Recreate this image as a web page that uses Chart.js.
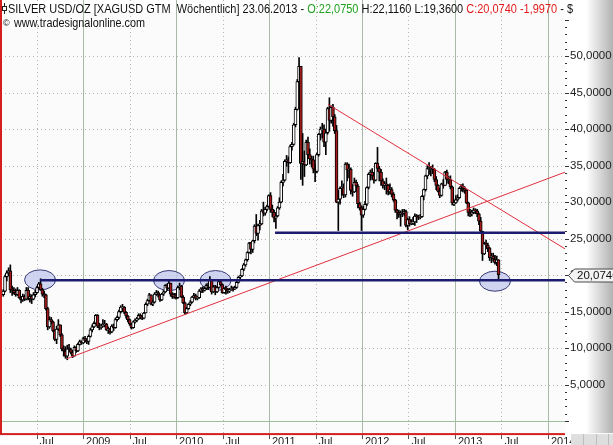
<!DOCTYPE html>
<html>
<head>
<meta charset="utf-8">
<script src="https://cdn.jsdelivr.net/npm/chart.js@4/dist/chart.umd.min.js"></script>
<style>
  html, body { margin: 0; padding: 0; background: #fff; overflow: hidden; }
  canvas { display: block; }
</style>
</head>
<body>
<canvas id="chart" width="613" height="445"></canvas>
<script>
// weekly silver candles, first week ends 22.02.2008, one bar per week
const firstWeek = Date.UTC(2008, 1, 22);
const firstOpen = 17.3;

const closes = [
  // 2008
  17.8, 19.8, 20.3, 20.6, 18.0, 17.9, 17.6, 17.3, 17.9, 16.9, 16.6, 17.1, 16.7, 17.9, 16.8,
  17.1, 16.7, 17.3, 17.6, 18.3, 18.8, 18.0, 17.4, 17.3, 15.4, 12.9, 13.9, 13.6, 12.4, 11.2,
  12.6, 13.2, 11.8, 9.9, 9.6, 8.9, 9.9, 9.8, 9.4, 8.9, 10.1, 9.6, 10.5, 10.9, 10.7,
  // 2009
  11.3, 11.0, 10.9, 11.6, 12.5, 12.9, 13.4, 14.5, 13.0, 12.8, 13.0, 13.3, 13.3, 12.5, 12.6,
  12.2, 13.0, 12.8, 13.9, 14.2, 15.0, 15.6, 15.6, 14.9, 14.4, 13.9, 13.3, 12.8, 13.6, 13.8,
  14.0, 14.5, 14.2, 14.1, 14.8, 16.0, 16.5, 17.3, 16.0, 16.3, 17.4, 17.6, 17.3, 16.6, 17.4,
  17.7, 18.6, 18.2, 18.9, 17.4, 17.0, 17.3,
  // 2010
  16.9, 18.3, 18.5, 17.0, 16.2, 14.8, 15.4, 16.0, 16.3, 17.0, 17.2, 16.8, 16.9, 17.8, 18.1,
  17.9, 18.2, 18.6, 18.3, 19.3, 17.7, 18.4, 17.7, 18.3, 19.1, 18.7, 17.6, 18.2, 18.0, 17.8,
  18.0, 18.2, 18.1, 18.3, 19.0, 19.7, 19.9, 20.8, 21.4, 22.1, 23.1, 24.4, 23.5, 24.7, 26.7,
  25.7, 26.8, 27.0, 28.8, 28.5, 29.0, 29.4, 30.9,
  // 2011
  29.0, 28.6, 27.8, 28.1, 29.2, 30.0, 32.7, 33.0, 35.6, 35.8, 35.4, 37.6, 37.9, 40.6, 42.7,
  46.5, 48.6, 35.3, 35.6, 35.1, 38.2, 36.5, 35.9, 35.8, 34.5, 34.2, 36.5, 39.3, 40.0, 40.0,
  38.2, 39.5, 42.8, 41.2, 43.0, 41.7, 39.8, 30.0, 30.4, 31.9, 32.0, 31.0, 35.2, 34.4, 34.5,
  31.6, 31.4, 32.7, 32.2, 29.8, 29.2, 28.2,
  // 2012
  29.0, 29.7, 32.0, 33.8, 34.1, 33.6, 33.0, 35.3, 34.6, 34.1, 32.9, 32.3, 32.5, 32.3, 31.4,
  31.7, 31.1, 30.3, 28.9, 28.6, 28.3, 28.5, 28.4, 28.7, 26.8, 27.6, 27.0, 27.3, 27.3, 28.1,
  28.0, 27.9, 28.0, 30.8, 31.7, 33.6, 34.6, 34.6, 34.6, 34.5, 33.1, 32.3, 31.5, 30.9, 32.5,
  32.3, 34.1, 33.1, 33.1, 32.1, 29.9, 29.9,
  // 2013
  30.3, 30.6, 31.9, 32.2, 31.9, 31.6, 29.9, 28.6, 28.4, 28.6, 28.9, 28.8, 28.4, 27.4, 26.0,
  22.9, 24.3, 24.1, 23.7, 22.4, 22.6, 22.2, 21.7, 22.08, 20.07
];

const highs = [
  18.0, 20.0, 20.6, 21.0, 21.4, 18.5, 18.3, 18.1, 18.3, 18.0, 17.1, 17.4, 17.3, 18.3, 18.3,
  17.4, 17.3, 17.6, 17.9, 18.5, 19.0, 19.5, 18.2, 17.8, 17.4, 15.6, 14.3, 14.2, 13.7, 12.5,
  13.0, 13.9, 13.2, 12.0, 10.3, 10.2, 10.4, 10.5, 10.0, 9.7, 10.3, 10.2, 10.7, 11.1, 11.0,
  11.5, 11.6, 11.3, 11.8, 12.7, 13.2, 13.6, 14.6, 14.6, 13.4, 13.3, 13.9, 13.8, 13.4, 12.9,
  12.7, 13.2, 13.3, 14.1, 14.4, 15.2, 15.8, 16.0, 15.7, 15.0, 14.5, 14.0, 13.4, 13.7, 14.0,
  14.2, 14.7, 14.7, 14.4, 14.9, 16.2, 16.7, 17.5, 17.3, 16.6, 17.6, 17.9, 17.8, 17.3, 17.5,
  17.9, 18.7, 18.8, 19.4, 18.9, 17.6, 17.5,
  17.5, 18.5, 18.9, 18.6, 17.2, 16.3, 15.6, 16.1, 16.5, 17.1, 17.5, 17.4, 17.1, 18.0, 18.3,
  18.4, 18.4, 18.8, 18.9, 19.8, 19.4, 18.6, 18.6, 18.5, 19.3, 19.2, 18.8, 18.3, 18.5, 18.2,
  18.2, 18.5, 18.4, 18.5, 19.2, 19.8, 20.0, 20.9, 21.6, 22.2, 23.2, 24.5, 24.5, 24.8, 26.9,
  28.3, 27.0, 27.5, 29.0, 30.0, 29.3, 29.6, 31.0,
  31.3, 29.6, 28.9, 28.5, 29.4, 30.6, 32.9, 33.8, 35.8, 36.4, 36.2, 37.8, 38.2, 40.8, 43.0,
  46.8, 49.8, 48.6, 39.4, 37.0, 38.5, 38.9, 37.3, 36.3, 36.3, 35.1, 36.7, 39.4, 40.3, 40.8,
  40.6, 40.0, 43.0, 44.3, 43.2, 43.4, 42.0, 40.5, 31.6, 32.1, 32.9, 32.5, 35.4, 35.4, 35.2,
  34.7, 32.4, 33.3, 33.0, 32.4, 30.0, 29.5,
  29.4, 30.1, 32.1, 34.0, 34.4, 34.6, 34.0, 35.4, 37.5, 34.9, 34.5, 33.2, 32.8, 33.3, 32.4,
  32.5, 32.0, 31.3, 30.4, 29.0, 28.9, 28.8, 29.0, 29.0, 28.9, 27.8, 28.0, 27.6, 27.9, 28.4,
  28.3, 28.2, 28.3, 30.9, 31.8, 33.7, 35.0, 35.4, 34.9, 35.1, 34.6, 33.5, 32.4, 31.9, 32.6,
  33.1, 34.2, 34.4, 33.5, 33.6, 32.2, 30.3,
  30.9, 31.0, 32.0, 32.4, 32.5, 32.1, 31.7, 30.0, 29.0, 28.9, 29.2, 29.1, 29.0, 28.5, 27.9,
  26.0, 24.5, 24.8, 24.4, 23.8, 23.0, 23.0, 22.7, 22.6, 22.12
];

const lows = [
  17.1, 17.7, 19.2, 19.9, 17.6, 17.2, 17.4, 17.1, 17.2, 16.8, 16.2, 16.4, 16.5, 16.6, 16.6,
  16.3, 16.1, 16.6, 17.0, 17.5, 18.1, 17.9, 17.1, 16.9, 15.2, 12.5, 12.7, 13.3, 12.2, 11.0,
  10.6, 12.4, 11.6, 9.6, 8.9, 8.6, 8.4, 9.5, 9.2, 8.7, 8.9, 9.4, 9.5, 10.4, 10.5,
  10.6, 10.8, 10.6, 10.5, 11.5, 12.2, 12.8, 13.3, 12.8, 12.5, 12.6, 12.9, 12.9, 12.4, 12.0,
  11.9, 12.1, 12.4, 12.7, 13.7, 14.0, 14.8, 15.0, 14.7, 14.1, 13.6, 13.1, 12.6, 12.7, 13.4,
  13.6, 13.9, 14.0, 13.9, 14.0, 14.8, 15.8, 16.4, 15.9, 15.8, 16.2, 17.2, 17.0, 16.4, 16.5,
  17.2, 17.6, 17.9, 18.1, 17.1, 16.8, 16.8,
  16.7, 16.8, 18.0, 16.9, 16.1, 14.6, 14.7, 15.3, 15.8, 16.2, 16.9, 16.6, 16.6, 16.8, 17.6,
  17.6, 17.8, 18.0, 18.0, 18.2, 17.4, 17.6, 17.3, 17.6, 18.2, 18.5, 17.5, 17.5, 17.4, 17.5,
  17.6, 17.9, 17.8, 18.0, 18.2, 18.9, 19.5, 19.8, 20.6, 21.2, 21.9, 23.0, 22.9, 23.1, 24.4,
  25.4, 24.8, 26.2, 26.9, 28.1, 28.2, 28.8, 29.3,
  28.6, 28.0, 27.3, 26.4, 28.0, 29.0, 29.9, 32.2, 32.9, 34.9, 34.0, 35.3, 37.1, 37.8, 40.3,
  42.6, 46.3, 33.1, 32.3, 33.5, 35.0, 36.2, 35.2, 34.8, 34.0, 32.8, 34.0, 36.3, 38.5, 38.8,
  37.6, 36.5, 39.3, 39.7, 40.8, 40.4, 39.4, 29.9, 26.1, 29.7, 30.9, 30.6, 30.7, 32.9, 33.3,
  31.1, 30.8, 31.3, 31.5, 29.2, 28.9, 26.1,
  27.9, 28.9, 29.5, 31.8, 33.0, 33.1, 32.6, 32.9, 34.2, 32.9, 32.3, 31.9, 31.7, 31.1, 31.0,
  31.1, 30.7, 30.1, 28.6, 27.7, 27.9, 26.7, 28.0, 28.2, 26.6, 26.2, 26.7, 26.9, 26.9, 26.8,
  27.2, 27.6, 27.7, 27.9, 30.3, 31.5, 33.2, 33.8, 33.6, 33.9, 32.8, 31.7, 31.4, 30.6, 30.8,
  31.9, 32.3, 32.6, 32.5, 31.8, 29.6, 29.5,
  29.8, 30.1, 30.5, 31.5, 31.4, 31.2, 29.8, 28.1, 28.0, 28.1, 28.4, 28.4, 28.0, 26.9, 25.8,
  22.0, 22.8, 23.6, 23.2, 22.0, 21.7, 21.9, 21.5, 21.3, 19.36
];

const xTicks = [2008.5, 2009, 2009.5, 2010, 2010.5, 2011, 2011.5, 2012, 2012.5, 2013, 2013.5, 2014];
const xTickLabels = ['Jul', '2009', 'Jul', '2010', 'Jul', '2011', 'Jul', '2012', 'Jul', '2013', 'Jul', '2014'];
const yTicks = [5, 10, 15, 20, 25, 30, 35, 40, 45, 50];
const lastPrice = 20.074;

// drawn lines (decimal year, price)
const supportLow = [{ x: 2008.54, y: 19.3 }, { x: 2014.3, y: 19.3 }];
const supportHigh = [{ x: 2011.065, y: 25.8 }, { x: 2014.3, y: 25.8 }];
const trendUp = [{ x: 2008.828, y: 8.55 }, { x: 2014.183, y: 34.1 }];
const trendDown = [{ x: 2011.634, y: 43.4 }, { x: 2014.183, y: 23.6 }];
const circles = [[2008.538, 19.34], [2009.925, 19.25], [2010.425, 19.25], [2013.43, 19.16]];

const font = "'Liberation Sans', Arial, sans-serif";
const narrow = "'Liberation Sans Narrow', 'Liberation Sans', Arial, sans-serif";

function yearOf(t) {
  const y = new Date(t).getUTCFullYear();
  const a = Date.UTC(y, 0, 1), b = Date.UTC(y + 1, 0, 1);
  return y + (t - a) / (b - a);
}

const n = Math.min(closes.length, highs.length, lows.length);
const weeks = [], bodies = [], wicks = [], bodyColors = [];
for (let i = 0; i < n; i++) {
  const o = i ? closes[i - 1] : firstOpen;
  const c = closes[i];
  weeks.push(yearOf(firstWeek + i * 7 * 86400000));
  bodies.push({ x: weeks[i], y: [o, c] });
  wicks.push({ x: weeks[i], y: [Math.min(lows[i], o, c), Math.max(highs[i], o, c)] });
  bodyColors.push(c >= o ? '#ffffff' : '#a51b1b');
}

function hline(ctx, x1, y1, x2, y2) {
  ctx.beginPath(); ctx.moveTo(x1, y1); ctx.lineTo(x2, y2); ctx.stroke();
}

function fitText(ctx, parts, x0, base, width) {
  const total = parts.reduce((s, p) => s + ctx.measureText(p[0]).width, 0);
  ctx.save();
  ctx.translate(x0, base);
  ctx.scale(width / total, 1);
  let cx = 0;
  parts.forEach(([t, col]) => {
    ctx.fillStyle = col;
    ctx.fillText(t, cx, 0);
    cx += ctx.measureText(t).width;
  });
  ctx.restore();
}

const decor = {
  id: 'decor',
  beforeDraw(chart) {
    const { ctx, chartArea: a, scales: { x, y } } = chart;
    ctx.save();
    // grey fade behind the price axis
    const g = ctx.createLinearGradient(586, 0, 613, 0);
    g.addColorStop(0, '#ffffff');
    g.addColorStop(1, '#b2b2b2');
    ctx.fillStyle = g;
    ctx.fillRect(a.right, 0, chart.width - a.right, a.bottom);
    ctx.fillStyle = '#fbfbfb';
    ctx.fillRect(a.left, a.top, a.right - a.left, a.bottom - a.top);

    ctx.lineWidth = 1;
    ctx.strokeStyle = '#b5b5b5';
    ctx.setLineDash([1, 3]);
    yTicks.forEach(v => {
      const py = Math.round(y.getPixelForValue(v)) + 0.5;
      hline(ctx, a.left, py, a.right, py);
    });
    xTicks.forEach(v => {
      const px = Math.round(x.getPixelForValue(v)) + 0.5;
      if (Number.isInteger(v)) {
        ctx.setLineDash([]);
        ctx.strokeStyle = '#a9b8a9';
      } else {
        ctx.setLineDash([1, 3]);
        ctx.strokeStyle = '#b5b5b5';
      }
      hline(ctx, px, 0, px, a.bottom);
    });
    ctx.setLineDash([]);
    ctx.strokeStyle = '#9fc09f';
    const zy = Math.round(y.getPixelForValue(0)) + 0.5;
    hline(ctx, a.left, zy, a.right, zy);
    ctx.restore();
  },
  beforeDatasetsDraw(chart) {
    const { ctx, scales: { x, y } } = chart;
    ctx.save();
    circles.forEach(([cx, cy]) => {
      ctx.beginPath();
      ctx.ellipse(x.getPixelForValue(cx), y.getPixelForValue(cy), 15.5, 10, 0, 0, Math.PI * 2);
      ctx.fillStyle = 'rgba(196, 204, 238, 0.8)';
      ctx.fill();
      ctx.strokeStyle = '#3a3a78';
      ctx.lineWidth = 1;
      ctx.stroke();
    });
    ctx.restore();
  },
  afterDraw(chart) {
    const { ctx, chartArea: a, scales: { x, y } } = chart;
    ctx.save();
    // red frame left and bottom
    ctx.fillStyle = '#d41f1f';
    ctx.fillRect(0, 0, 2, a.bottom + 1);
    ctx.fillRect(0, a.bottom, a.right, 2);

    // small marks on the price axis
    ctx.fillStyle = '#333';
    for (let v = 0; v <= 55; v++) {
      const py = Math.round(y.getPixelForValue(v));
      ctx.fillRect(a.right, py, v % 5 === 0 ? 4 : 2, 1);
    }
    // tick marks under the time axis
    ctx.fillStyle = '#555';
    xTicks.forEach(v => {
      ctx.fillRect(Math.round(x.getPixelForValue(v)), a.bottom + 2, 1, 4);
    });
    // grey cells at bottom right
    ctx.fillStyle = '#dedede';
    ctx.fillRect(571, a.bottom + 1, chart.width - 571, chart.height - a.bottom);
    ctx.fillStyle = '#bdbdbd';
    [583, 596, 608].forEach(px => ctx.fillRect(px, a.bottom + 1, 1, chart.height - a.bottom));

    // last price tag
    const ty = Math.round(y.getPixelForValue(lastPrice)) + 0.5;
    ctx.beginPath();
    ctx.moveTo(568.5, ty);
    ctx.lineTo(574.5, ty - 6.5);
    ctx.lineTo(614, ty - 6.5);
    ctx.lineTo(614, ty + 6.5);
    ctx.lineTo(574.5, ty + 6.5);
    ctx.closePath();
    ctx.fillStyle = '#f3f3f3';
    ctx.fill();
    ctx.strokeStyle = '#4a4a4a';
    ctx.lineWidth = 1;
    ctx.stroke();
    ctx.fillStyle = '#111';
    ctx.font = '11.5px ' + font;
    ctx.textBaseline = 'middle';
    ctx.fillText(lastPrice.toFixed(4).replace('.', ','), 577, ty + 0.5);

    // header
    ctx.textBaseline = 'alphabetic';
    ctx.strokeStyle = '#222';
    ctx.beginPath(); ctx.moveTo(4.5, 3); ctx.lineTo(4.5, 14); ctx.stroke();
    ctx.fillStyle = '#fff';
    ctx.fillRect(2.5, 6.5, 4, 4);
    ctx.strokeRect(2.5, 6.5, 4, 4);
    ctx.font = '12.5px ' + narrow;
    fitText(ctx, [
      ['SILVER USD/OZ [XAGUSD GTM  Wöchentlich] 23.06.2013 - ', '#111'],
      ['O:22,0750', '#1ea01e'],
      [' H:22,1160 L:19,3600 ', '#111'],
      ['C:20,0740 -1,9970', '#e01b1b'],
      [' - $', '#111']
    ], 8, 13, 565);
    ctx.font = '9px ' + font;
    ctx.fillStyle = '#111';
    ctx.fillText('©', 3, 26);
    ctx.font = '12px ' + narrow;
    fitText(ctx, [['www.tradesignalonline.com', '#111']], 14, 26.5, 131);
    ctx.restore();
  }
};

new Chart(document.getElementById('chart'), {
  type: 'bar',
  data: {
    datasets: [
      { type: 'line', data: supportLow, borderColor: '#1b1b70', borderWidth: 2.5, pointRadius: 0, order: 0 },
      { type: 'line', data: supportHigh, borderColor: '#1b1b70', borderWidth: 2.5, pointRadius: 0, order: 0 },
      { type: 'line', data: trendUp, borderColor: '#e0303c', borderWidth: 1, pointRadius: 0, order: 0 },
      { type: 'line', data: trendDown, borderColor: '#e0303c', borderWidth: 1, pointRadius: 0, order: 0 },
      {
        data: bodies, backgroundColor: bodyColors, borderColor: '#000', borderWidth: 1,
        borderSkipped: false, barThickness: 3, minBarLength: 1, grouped: false, order: 1
      },
      {
        data: wicks, backgroundColor: '#000', borderWidth: 0,
        barThickness: 1, grouped: false, order: 2
      }
    ]
  },
  options: {
    responsive: false,
    animation: false,
    devicePixelRatio: 1,
    layout: { padding: { left: 1, top: 0, right: 0, bottom: 0 } },
    plugins: { legend: { display: false }, tooltip: { enabled: false } },
    scales: {
      x: {
        type: 'linear', min: 2008.118, max: 2014.183, offset: false,
        grid: { display: false, drawTicks: false }, border: { display: false },
        afterBuildTicks: s => { s.ticks = xTicks.map(v => ({ value: v })); },
        afterFit: s => { s.height = 11; },
        ticks: {
          autoSkip: false, maxRotation: 0, minRotation: 0, align: 'start', labelOffset: 3, padding: 2,
          color: '#222', font: { family: font, size: 11 },
          callback: (v, i) => xTickLabels[i]
        }
      },
      y: {
        position: 'right', min: -1.65, max: 56.06,
        grid: { display: false, drawTicks: false }, border: { display: false },
        afterBuildTicks: s => { s.ticks = yTicks.map(v => ({ value: v })); },
        afterFit: s => { s.width = 48; },
        ticks: {
          padding: 5, color: '#222', font: { family: font, size: 11.5 },
          callback: v => v.toFixed(4).replace('.', ',')
        }
      }
    }
  },
  plugins: [decor]
});
</script>
</body>
</html>
